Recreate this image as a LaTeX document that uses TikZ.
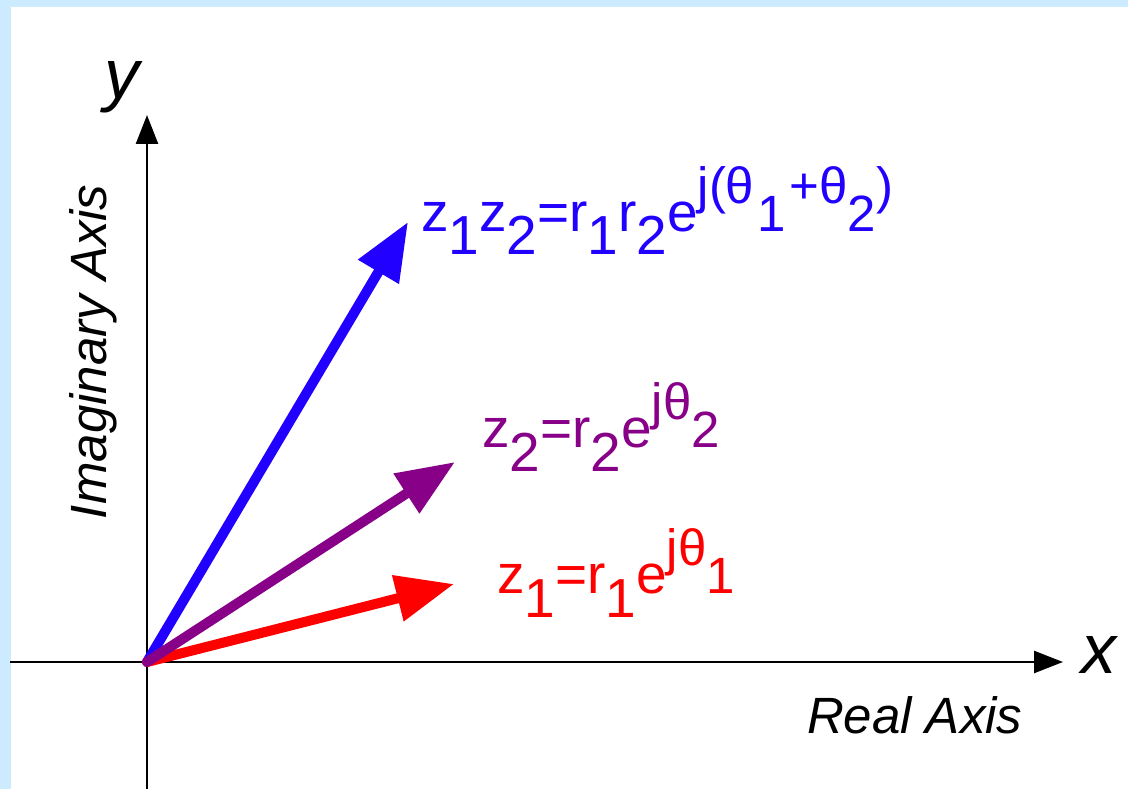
\documentclass[tikz,border=0pt]{standalone}
\usepackage{fontspec}
\setmainfont{Liberation Sans}
\usetikzlibrary{arrows.meta}
\definecolor{bgblue}{RGB}{204,235,255}
\definecolor{vblue}{RGB}{34,0,255}
\definecolor{vpurple}{RGB}{136,0,136}
\definecolor{vred}{RGB}{255,0,0}
\newcommand\mainsz{\fontsize{55}{64}\selectfont}
\newcommand\supsz{\fontsize{51}{60}\selectfont}
\newcommand\lowr[1]{\raisebox{-24pt}{#1}}
\newcommand\highr[1]{\raisebox{28pt}{\supsz #1}}
\newcommand\midr[1]{{\supsz #1}}
\tikzset{
  axisline/.style={line width=2.5pt, black, -{Triangle[length=29pt,width=22pt]}},
  vec/.style={line width=10pt, line cap=round, -{Triangle[length=58pt,width=45pt]}},
  lbl/.style={inner sep=0pt, outer sep=0pt, anchor=base west, font=\mainsz},
  axlbl/.style={inner sep=0pt, outer sep=0pt, anchor=base west, font=\fontsize{51}{60}\selectfont\itshape},
  xylbl/.style={inner sep=0pt, outer sep=0pt, anchor=base west, font=\fontsize{70}{80}\selectfont\itshape}
}
\begin{document}
\begin{tikzpicture}[x=1pt,y=-1pt]
\useasboundingbox (0,0) rectangle (1128,789);
\fill[bgblue] (0,0) rectangle (1128,789);
\fill[white] (11,7) rectangle (1128,789);
% coordinates
\coordinate (O) at (147,662);
\coordinate (xl) at (10,662);
\coordinate (xr) at (1063,662);
\coordinate (yb) at (147,789);
\coordinate (yt) at (147,115);
\coordinate (tb) at (408,222);
\coordinate (tp) at (455,462);
\coordinate (tr) at (454,584);
% axes
\draw[axisline] (xl) -- (xr);
\draw[axisline] (yb) -- (yt);
% vectors
\draw[vec, vblue] (O) -- (tb);
\draw[vec, vred] (O) -- (tr);
\draw[vec, vpurple] (O) -- (tp);
% labels
\node[lbl, text=vblue] (lb) at (421,231) {z\lowr{1}z\lowr{2}=r\lowr{1}r\lowr{2}e\highr{j(θ}\kern3pt\midr{1}\kern4pt\highr{+θ}\midr{2}\highr{)}};
\node[lbl, text=vpurple] (lp) at (482,447) {z\lowr{2}=r\lowr{2}e\highr{jθ}\midr{2}};
\node[lbl, text=vred] (lr) at (497,593) {z\lowr{1}=r\lowr{1}e\highr{jθ}\midr{1}};
\node[xylbl] (xlab) at (1081,673) {x};
\node[xylbl] (ylab) at (104,99) {y};
\node[axlbl] (real) at (807,733) {Real Axis};
\node[axlbl, rotate=90] (imag) at (106,519) {Imaginary Axis};
\end{tikzpicture}
\end{document}
